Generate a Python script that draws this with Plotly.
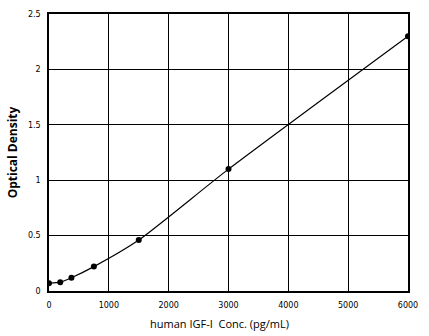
import plotly.graph_objects as go

# Standard curve: concentration (pg/mL) vs optical density
conc = [0, 187.5, 375, 750, 1500, 3000, 6000]
od = [0.07, 0.08, 0.12, 0.22, 0.46, 1.10, 2.30]

x_ticks = [0, 1000, 2000, 3000, 4000, 5000, 6000]
y_ticks = [0, 0.5, 1, 1.5, 2, 2.5]
y_tick_text = ["0", "0.5", "1", "1.5", "2", "2.5"]

fig = go.Figure()
fig.add_trace(go.Scatter(
    x=conc, y=od,
    mode="lines+markers",
    line=dict(color="black", width=1.2, shape="spline", smoothing=0.6),
    marker=dict(color="black", size=6),
    showlegend=False,
))

fig.update_layout(
    width=429, height=336,
    margin=dict(l=49, r=21, t=14, b=45),
    paper_bgcolor="white",
    plot_bgcolor="white",
    font=dict(family="DejaVu Sans", color="black"),
)
fig.update_xaxes(
    range=[0, 6000],
    tickvals=x_ticks,
    ticktext=[str(v) for v in x_ticks],
    tickfont=dict(size=8),
    ticklabelstandoff=6,
    automargin=False,
    showgrid=True, gridcolor="black", gridwidth=1,
    showline=True, linecolor="black", linewidth=1.5, mirror=True,
    zeroline=False,
    ticks="", ticklen=0,
)
fig.update_yaxes(
    range=[0, 2.5],
    tickvals=y_ticks,
    ticktext=y_tick_text,
    tickfont=dict(size=8),
    ticklabelstandoff=5,
    automargin=False,
    showgrid=True, gridcolor="black", gridwidth=1,
    showline=True, linecolor="black", linewidth=1.5, mirror=True,
    zeroline=False,
    ticks="", ticklen=0,
    title=dict(text="<b>Optical Density</b>",
               font=dict(size=12, family="Open Sans"), standoff=8),
)

# x-axis title, sitting slightly left of the plot centre
fig.add_annotation(
    text="human IGF-I  Conc. (pg/mL)",
    xref="paper", yref="paper",
    x=0.476, y=-0.116,
    xanchor="center", yanchor="middle",
    showarrow=False,
    font=dict(size=11, family="Open Sans", color="black"),
)

fig.write_html("out.html")
